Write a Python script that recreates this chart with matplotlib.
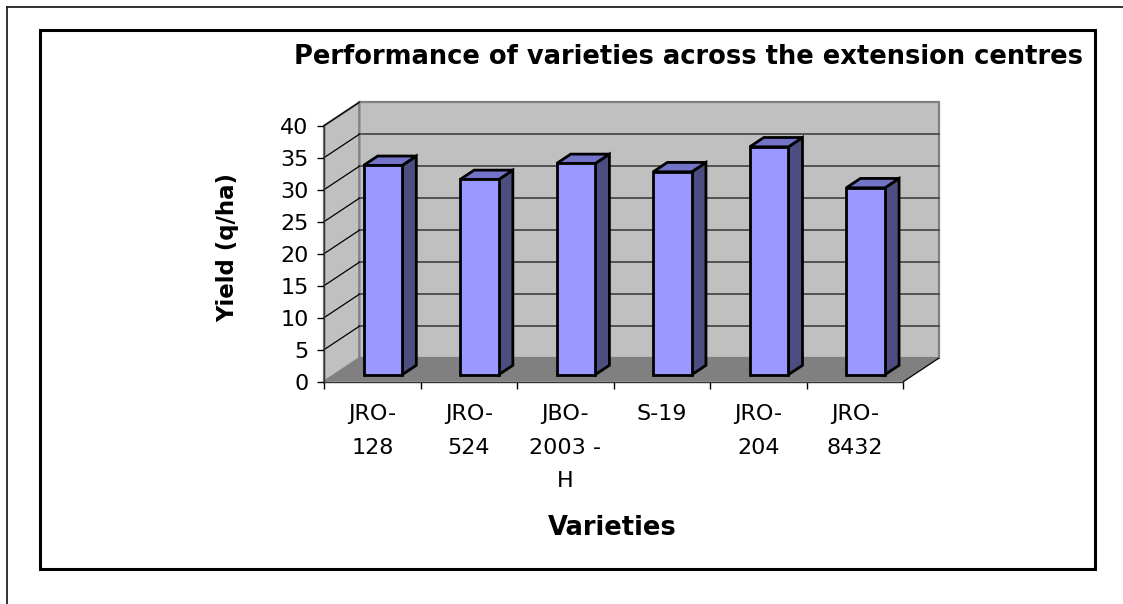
import numpy as np
import matplotlib
matplotlib.use('Agg')
import matplotlib.pyplot as plt
from matplotlib.patches import Polygon
from matplotlib.lines import Line2D

# data
varieties = ['JRO-\n128', 'JRO-\n524', 'JBO-\n2003 -\nH', 'S-19', 'JRO-\n204', 'JRO-\n8432']
yield_qha = [32.7, 30.5, 33.0, 31.7, 35.6, 29.2]
yticks = [0, 5, 10, 15, 20, 25, 30, 35, 40]

# fake 3d: depth 1 moves a point by (DX, DY) in data units
DX = 0.3656
DY = 3.656
d0, d1 = 0.3, 0.7
half = 0.2

def proj(x, y, d):
    return (x + d * DX, y + d * DY)

fig = plt.figure(figsize=(11.23, 6.04), dpi=100)
fig.patch.set_facecolor('white')

W, H = 1123.0, 604.0
ax = fig.add_axes([324 / W, (H - 381.7) / H, 579.3 / W, 256 / H])
ax.set_xlim(-0.5, 5.5)
ax.set_ylim(0, 40)
ax.patch.set_visible(False)

n = len(varieties)
x0, x1 = -0.5, n - 0.5
ymax = yticks[-1]

# walls and floor
back = [proj(x0, 0, 1), proj(x1, 0, 1), proj(x1, ymax, 1), proj(x0, ymax, 1)]
left = [proj(x0, 0, 0), proj(x0, ymax, 0), proj(x0, ymax, 1), proj(x0, 0, 1)]
floor = [proj(x0, 0, 0), proj(x1, 0, 0), proj(x1, 0, 1), proj(x0, 0, 1)]
ax.add_patch(Polygon(back, closed=True, fc='#C0C0C0', ec='#808080', lw=1.6, clip_on=False, zorder=1))
ax.add_patch(Polygon(left, closed=True, fc='#C0C0C0', ec='#808080', lw=1.6, clip_on=False, zorder=1))
ax.add_patch(Polygon(floor, closed=True, fc='#808080', ec='none', clip_on=False, zorder=1))

# gridlines on back wall + left wall
for v in yticks[1:-1]:
    a, b = proj(x0, v, 1), proj(x1, v, 1)
    ax.plot([a[0], b[0]], [a[1], b[1]], color='#4a4a4a', lw=1.3, clip_on=False, zorder=2)
for v in yticks[1:]:
    a, b = proj(x0, v, 0), proj(x0, v, 1)
    ax.plot([a[0], b[0]], [a[1], b[1]], color='black', lw=0.9, clip_on=False, zorder=2)
a, b = proj(x1, 0, 0), proj(x1, 0, 1)
ax.plot([a[0], b[0]], [a[1], b[1]], color='black', lw=0.9, clip_on=False, zorder=2)

# bars
for i, v in enumerate(yield_qha):
    xl, xr = i - half, i + half
    front = [proj(xl, 0, d0), proj(xr, 0, d0), proj(xr, v, d0), proj(xl, v, d0)]
    top = [proj(xl, v, d0), proj(xr, v, d0), proj(xr, v, d1), proj(xl, v, d1)]
    side = [proj(xr, 0, d0), proj(xr, v, d0), proj(xr, v, d1), proj(xr, 0, d1)]
    for pts, c in [(side, '#4D4D80'), (top, '#7373C8'), (front, '#9999FF')]:
        ax.add_patch(Polygon(pts, closed=True, fc=c, ec='black', lw=2.0,
                             joinstyle='miter', clip_on=False, zorder=3))

# axes
for s in ['top', 'right']:
    ax.spines[s].set_visible(False)
for s in ['left', 'bottom']:
    ax.spines[s].set_color('#333333')
    ax.spines[s].set_linewidth(1.0)
    ax.spines[s].set_zorder(4)

ax.set_yticks(yticks)
ax.set_yticklabels([str(t) for t in yticks])
ax.tick_params(axis='y', direction='out', length=5, width=1, pad=6, labelsize=16, colors='black')
ax.set_xticks(np.arange(n + 1) - 0.5)
ax.set_xticklabels([])
ax.tick_params(axis='x', which='major', direction='out', length=5, width=1)
ax.set_xticks(np.arange(n), minor=True)
ax.set_xticklabels(varieties, minor=True, fontsize=16, linespacing=1.86, va='top')
ax.tick_params(axis='x', which='minor', length=0, pad=16)

# titles
fig.text(688.5 / W, 1 - 57 / H, 'Performance of varieties across the extension centres',
         ha='center', va='center', fontsize=18.5, fontweight='bold')
fig.text(228 / W, 1 - 248 / H, 'Yield (q/ha)', ha='center', va='center',
         rotation=90, fontsize=16.5, fontweight='bold')
fig.text(612 / W, 1 - 528 / H, 'Varieties', ha='center', va='center',
         fontsize=18.5, fontweight='bold')

# chart frame and page edge
fig.add_artist(plt.Rectangle((40 / W, 1 - 569 / H), 1055 / W, 539 / H, transform=fig.transFigure,
                             fill=False, ec='black', lw=2.2))
fig.add_artist(Line2D([7 / W, 1], [1 - 7 / H, 1 - 7 / H], transform=fig.transFigure, color='#222222', lw=1.3))
fig.add_artist(Line2D([7 / W, 7 / W], [0, 1 - 7 / H], transform=fig.transFigure, color='#222222', lw=1.3))

fig.savefig('out.png', dpi=100)
